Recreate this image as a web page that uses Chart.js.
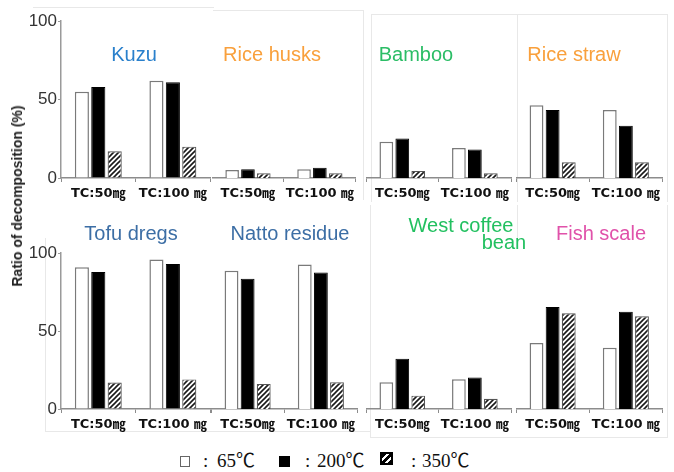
<!DOCTYPE html>
<html>
<head>
<meta charset="utf-8">
<script src="https://cdn.jsdelivr.net/npm/chart.js@4/dist/chart.umd.min.js"></script>
<style>
  html, body { margin: 0; padding: 0; background: #fff; }
  #wrap { position: relative; width: 674px; height: 472px; overflow: hidden; background: #fff; }
  #wrap canvas { position: absolute; }
  .frame { position: absolute; border: 1px solid #e8e8e8; box-sizing: border-box; }
  .title { position: absolute; font-family: "Liberation Sans", Arial, sans-serif; font-size: 20px; white-space: nowrap; transform: translate(-50%, -50%); line-height: 1; }
  #ytitle { position: absolute; left: 17px; top: 196px; transform: translate(-50%, -50%) rotate(-90deg); font-family: "Liberation Sans", Arial, sans-serif; font-weight: bold; font-size: 14px; color: #222; white-space: nowrap; }
  .lg { position: absolute; top: 450px; font-family: "Liberation Serif", "Noto Sans CJK JP", serif; font-size: 19px; color: #111; white-space: nowrap; line-height: 22px; }
  .box { position: absolute; box-sizing: border-box; }
  .b65 { left: 180px; top: 456px; width: 10px; height: 11px; border: 1px solid #666; background: #fff; }
  .b200 { left: 279px; top: 456px; width: 11px; height: 11px; background: #000; }
  .b350 { left: 380px; top: 452px; width: 13px; height: 13px; background: repeating-linear-gradient(135deg, #000 0 3px, #fff 3px 5px); border: 2px solid #000; }
</style>
</head>
<body>
<div id="wrap">
  <div class="frame" style="left:33px; top:7px; width:181px; height:1px; border-width:1px 0 0 0;"></div>
  <div class="frame" style="left:213px; top:10px; width:151px; height:190px; border-left:none; border-bottom:none;"></div>
  <div class="frame" style="left:371px; top:14px; width:297px; height:188px; border-bottom:none;"></div>
  <div class="frame" style="left:517px; top:14px; width:1px; height:188px; border-width:0 0 0 1px;"></div>
  <div class="frame" style="left:45px; top:238px; width:326px; height:194px; border-top:none; border-right:none;"></div>
  <div class="frame" style="left:370px; top:205px; width:298px; height:233px; border-top:none;"></div>
  <div class="frame" style="left:517px; top:205px; width:1px; height:36px; border-width:0 0 0 1px;"></div>
</div>
<script>
// Samples and heating conditions
const groups = ['TC:50㎎', 'TC:100 ㎎'];
const materials = ['Kuzu', 'Rice husks', 'Bamboo', 'Rice straw', 'Tofu dregs', 'Natto residue', 'West coffee bean', 'Fish scale'];
const titleColors = ['#2a80cc', '#f9a03c', '#2bbd66', '#f9a03c', '#3c6ea5', '#3c6ea5', '#22c060', '#e052aa'];
const seriesNames = ['65℃', '200℃', '350℃'];

// Ratio of decomposition (%) per material, [TC:50mg, TC:100mg]
const temp65  = [[55, 62], [5, 5.5], [23, 19], [46, 43], [91, 96], [88, 92], [17, 19], [42, 39]];
const temp200 = [[58, 61], [5.5, 6.5], [25, 18], [43, 33], [88, 93], [83, 87], [32, 20], [65, 62]];
const temp350 = [[17, 20], [3, 3], [4.5, 3], [10, 10], [17, 19], [16, 17], [8.5, 6.5], [61, 59]];
const yTicks = [0, 50, 100];

// Panel placement: plot-area x range, row, and whether the y axis is shown
const panels = [
  { x0: 60.5, x1: 210.5, row: 0, yAxis: true },
  { x0: 212, x1: 358, row: 0, yAxis: false },
  { x0: 366, x1: 513, row: 0, yAxis: false },
  { x0: 516, x1: 664, row: 0, yAxis: false },
  { x0: 60.5, x1: 210.5, row: 1, yAxis: true },
  { x0: 211, x1: 359, row: 1, yAxis: false },
  { x0: 366, x1: 513, row: 1, yAxis: false },
  { x0: 516, x1: 664, row: 1, yAxis: false }
];
const rows = [{ top: 20, bottom: 178 }, { top: 252, bottom: 409 }];
const titlePos = [
  [134, 54], [272, 54], [416, 54], [574, 54],
  [131, 233], [290, 233], null, [601, 233]
];

const Y_W = 40, X_H = 30, PAD_T = 10;

function hatchPattern() {
  const c = document.createElement('canvas');
  c.width = 5; c.height = 5;
  const g = c.getContext('2d');
  g.fillStyle = '#fff';
  g.fillRect(0, 0, 5, 5);
  g.strokeStyle = '#1a1a1a';
  g.lineWidth = 1.6;
  g.beginPath();
  g.moveTo(-1, 6); g.lineTo(6, -1);
  g.moveTo(-1, 1); g.lineTo(1, -1);
  g.moveTo(4, 6); g.lineTo(6, 4);
  g.stroke();
  return c.getContext('2d').createPattern(c, 'repeat');
}
const hatch = hatchPattern();

const wrap = document.getElementById('wrap');
const tickFont = { family: "'DejaVu Sans', 'Noto Sans CJK JP', sans-serif", size: 13, weight: 'bold' };

panels.forEach((p, i) => {
  const r = rows[p.row];
  const left = p.yAxis ? p.x0 - Y_W : p.x0;
  const width = Math.round(p.x1 - left);
  const height = (r.bottom - r.top) + PAD_T + X_H;
  const cv = document.createElement('canvas');
  cv.width = width; cv.height = height;
  cv.style.left = left + 'px';
  cv.style.top = (r.top - PAD_T) + 'px';
  cv.style.width = width + 'px';
  cv.style.height = height + 'px';
  wrap.appendChild(cv);

  new Chart(cv, {
    type: 'bar',
    data: {
      labels: groups,
      datasets: [
        { label: seriesNames[0], data: temp65[i], backgroundColor: '#fff', borderColor: '#7a7a7a', borderWidth: 1.5 },
        { label: seriesNames[1], data: temp200[i], backgroundColor: '#000', borderColor: '#000', borderWidth: 1 },
        { label: seriesNames[2], data: temp350[i], backgroundColor: hatch, borderColor: '#555', borderWidth: 1.2 }
      ]
    },
    options: {
      responsive: false,
      animation: false,
      devicePixelRatio: 1,
      layout: { padding: { top: PAD_T, left: 0, right: 0, bottom: 0 } },
      categoryPercentage: 0.66,
      barPercentage: 0.86,
      plugins: { legend: { display: false }, tooltip: { enabled: false }, title: { display: false } },
      scales: {
        x: {
          afterFit: s => { s.height = X_H; },
          border: { display: true, color: '#8c8c8c', width: 1.5 },
          grid: { display: true, drawOnChartArea: false, drawTicks: true, tickLength: 4, color: '#8c8c8c', lineWidth: 1 },
          ticks: { color: '#111', font: tickFont, padding: 4, maxRotation: 0, autoSkip: false }
        },
        y: {
          display: p.yAxis,
          min: 0, max: 100,
          afterFit: s => { s.width = p.yAxis ? Y_W : 0; },
          afterBuildTicks: s => { s.ticks = yTicks.map(v => ({ value: v })); },
          border: { display: true, color: '#9a9a9a', width: 1.5 },
          grid: { drawOnChartArea: false, drawTicks: true, tickLength: 3, color: '#9a9a9a' },
          ticks: { color: '#333', padding: 1, font: { family: "'Liberation Sans', Arial, sans-serif", size: 17 } }
        }
      }
    }
  });

  const tp = titlePos[i];
  if (tp) {
    const t = document.createElement('div');
    t.className = 'title';
    t.style.left = tp[0] + 'px';
    t.style.top = tp[1] + 'px';
    t.style.color = titleColors[i];
    t.textContent = materials[i];
    wrap.appendChild(t);
  }
});

// Two-line title for the coffee bean panel
const coffeeWords = materials[6].split(' ');
const t1 = document.createElement('div');
t1.className = 'title';
t1.style.cssText = 'left:461px; top:225px; color:' + titleColors[6];
t1.textContent = coffeeWords.slice(0, 2).join(' ');
wrap.appendChild(t1);
const t2 = document.createElement('div');
t2.className = 'title';
t2.style.cssText = 'left:504px; top:242px; color:' + titleColors[6];
t2.textContent = coffeeWords[2];
wrap.appendChild(t2);

// Axis title shared by both rows
const yt = document.createElement('div');
yt.id = 'ytitle';
yt.textContent = 'Ratio of decomposition (%)';
wrap.appendChild(yt);

// Legend: marker boxes, colons and temperature labels
['b65', 'b200', 'b350'].forEach(cls => {
  const b = document.createElement('span');
  b.className = 'box ' + cls;
  wrap.appendChild(b);
});
const colonLeft = [203, 305, 411];
const nameLeft = [217, 317, 422];
seriesNames.forEach((n, k) => {
  const c = document.createElement('span');
  c.className = 'lg';
  c.style.left = colonLeft[k] + 'px';
  c.textContent = ':';
  wrap.appendChild(c);
  const s = document.createElement('span');
  s.className = 'lg';
  s.style.left = nameLeft[k] + 'px';
  s.textContent = n;
  wrap.appendChild(s);
});
</script>
</body>
</html>
